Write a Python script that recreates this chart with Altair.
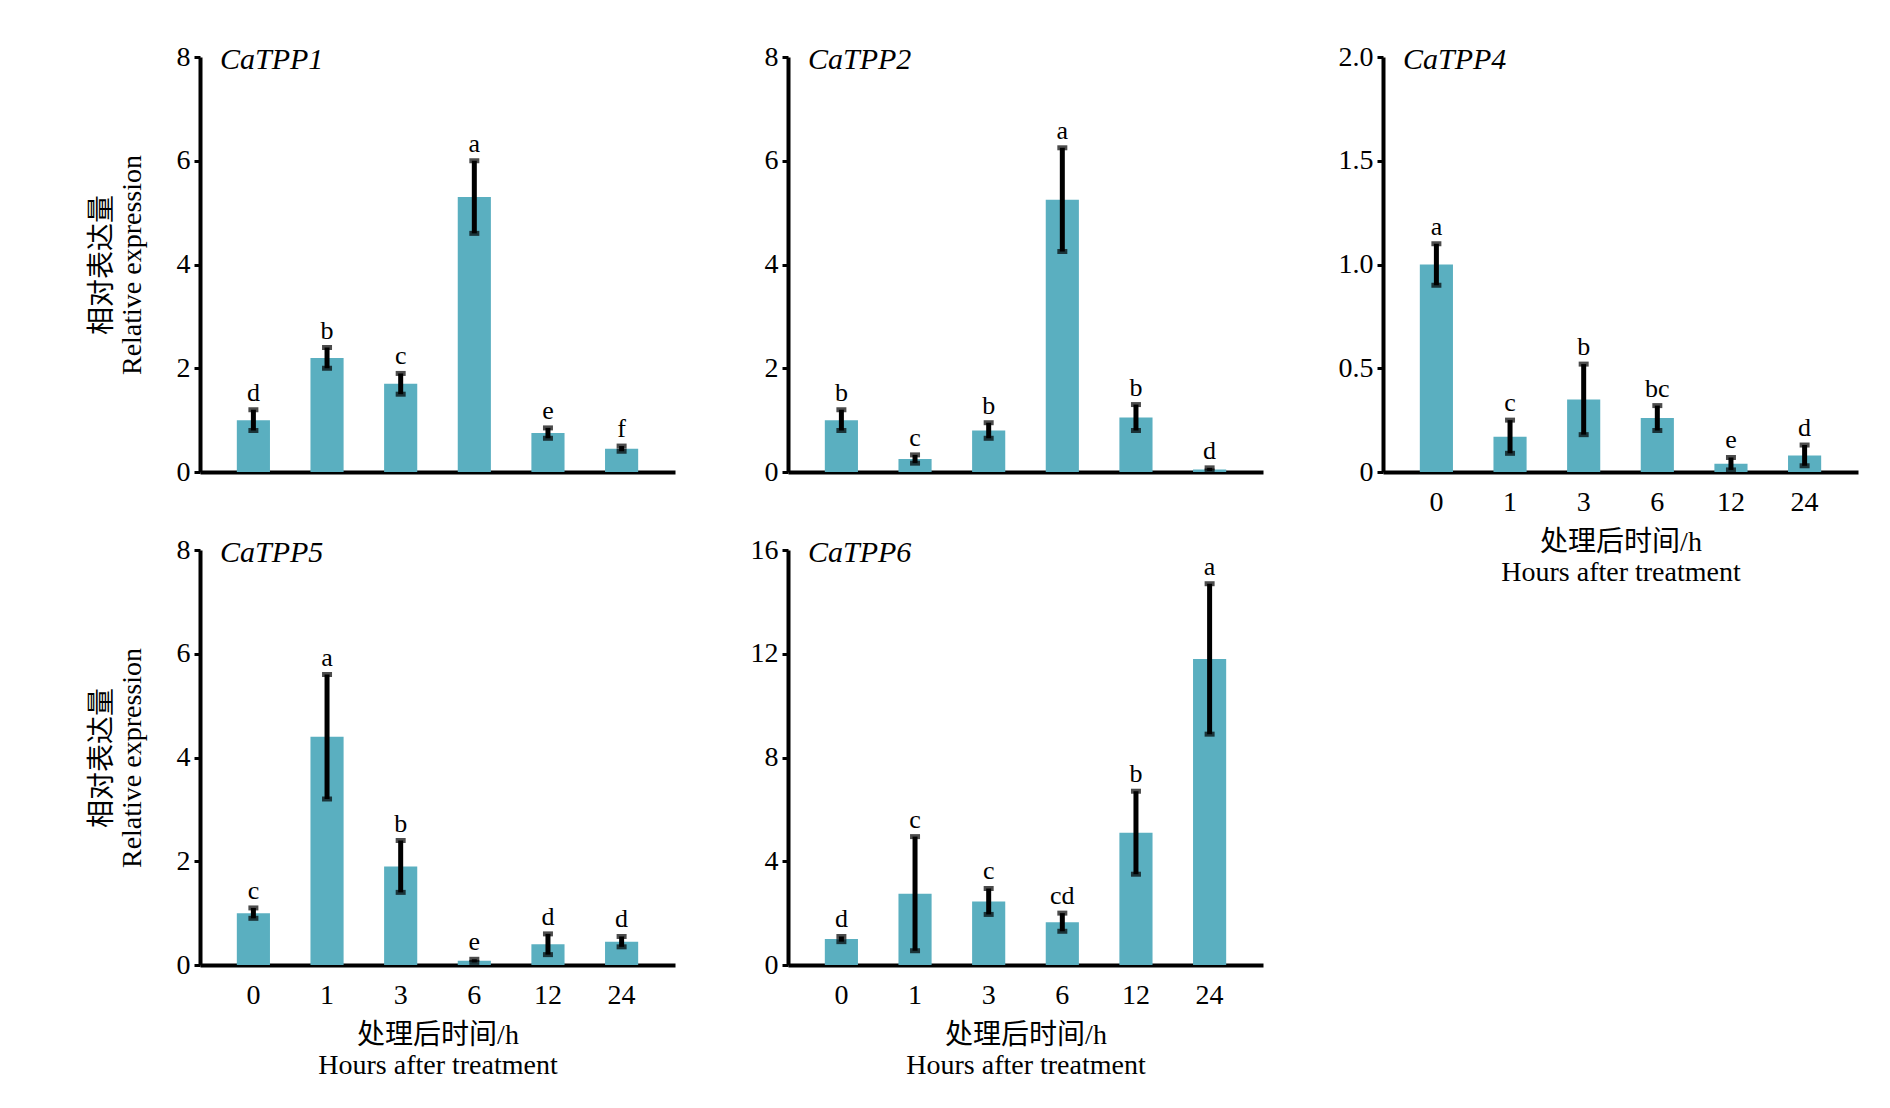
import altair as alt
import pandas as pd

hours = ["0", "1", "3", "6", "12", "24"]

tpp1_val = [1.0, 2.2, 1.7, 5.3, 0.75, 0.45]
tpp1_err = [0.2, 0.2, 0.2, 0.7, 0.1, 0.05]
tpp1_let = ["d", "b", "c", "a", "e", "f"]

tpp2_val = [1.0, 0.25, 0.8, 5.25, 1.05, 0.05]
tpp2_err = [0.2, 0.08, 0.15, 1.0, 0.25, 0.03]
tpp2_let = ["b", "c", "b", "a", "b", "d"]

tpp4_val = [1.0, 0.17, 0.35, 0.26, 0.04, 0.08]
tpp4_err = [0.1, 0.08, 0.17, 0.06, 0.03, 0.05]
tpp4_let = ["a", "c", "b", "bc", "e", "d"]

tpp5_val = [1.0, 4.4, 1.9, 0.08, 0.4, 0.45]
tpp5_err = [0.1, 1.2, 0.5, 0.03, 0.2, 0.1]
tpp5_let = ["c", "a", "b", "e", "d", "d"]

tpp6_val = [1.0, 2.75, 2.45, 1.65, 5.1, 11.8]
tpp6_err = [0.1, 2.2, 0.5, 0.35, 1.6, 2.9]
tpp6_let = ["d", "c", "c", "cd", "b", "a"]

FONT = "Liberation Serif, Noto Sans CJK SC"
BAR = "#5aafc0"
W, H = 475, 415


def panel(name, vals, errs, lets, ymax, ticks, show_x, show_y, expr=None):
    df = pd.DataFrame({"h": hours, "v": vals, "lo": [v - e for v, e in zip(vals, errs)],
                       "hi": [v + e for v, e in zip(vals, errs)], "let": lets})
    x = alt.X("h:N", sort=hours, scale=alt.Scale(paddingInner=0.55, paddingOuter=0.5),
              axis=alt.Axis(labels=show_x, ticks=False, domain=True, domainColor="black",
                            domainWidth=4, labelAngle=0, labelFontSize=28, labelFont=FONT,
                            labelPadding=16, labelColor="black",
                            title=["处理后时间/h", "Hours after  treatment"] if show_x else None,
                            titleFontSize=28, titleFont=FONT, titleFontWeight="normal",
                            titlePadding=12, titleColor="black"))
    axkw = dict(values=ticks, grid=False, domainColor="black", domainWidth=4,
                tickColor="black", tickWidth=3, tickSize=6, labelFontSize=28,
                labelFont=FONT, labelColor="black", labelPadding=4,
                title=["相对表达量", "Relative expression"] if show_y else None,
                titleFontSize=28, titleFont=FONT, titleFontWeight="normal",
                titlePadding=30, titleColor="black")
    if expr:
        axkw["labelExpr"] = expr
    y = alt.Y("v:Q", scale=alt.Scale(domain=[0, ymax], nice=False), axis=alt.Axis(**axkw))
    base = alt.Chart(df)
    xs = alt.X("h:N", sort=hours)
    bars = base.mark_bar(color=BAR).encode(x=x, y=y)
    rule = base.mark_rule(color="black", strokeWidth=5).encode(x=xs, y="lo:Q", y2="hi:Q")
    cap1 = base.mark_tick(color="black", thickness=5, size=10).encode(x=xs, y="lo:Q")
    cap2 = base.mark_tick(color="black", thickness=5, size=10).encode(x=xs, y="hi:Q")
    txt = base.mark_text(font=FONT, fontSize=26, dy=-17, color="black").encode(
        x=xs, y="hi:Q", text="let:N")
    title = alt.Chart(pd.DataFrame({"t": [name]})).mark_text(
        font=FONT, fontSize=30, fontStyle="italic", align="left", baseline="top", color="black"
    ).encode(x=alt.value(20), y=alt.value(-12), text="t:N")
    return alt.layer(bars, rule, cap1, cap2, txt, title).properties(width=W, height=H)


p1 = panel("CaTPP1", tpp1_val, tpp1_err, tpp1_let, 8, [0, 2, 4, 6, 8], False, True)
p2 = panel("CaTPP2", tpp2_val, tpp2_err, tpp2_let, 8, [0, 2, 4, 6, 8], False, False)
p4 = panel("CaTPP4", tpp4_val, tpp4_err, tpp4_let, 2.0, [0, 0.5, 1.0, 1.5, 2.0], True, False,
           expr="datum.value == 0 ? '0' : format(datum.value, '.1f')")
p5 = panel("CaTPP5", tpp5_val, tpp5_err, tpp5_let, 8, [0, 2, 4, 6, 8], True, True)
p6 = panel("CaTPP6", tpp6_val, tpp6_err, tpp6_let, 16, [0, 4, 8, 12, 16], True, False)

col1 = alt.vconcat(p1, p5, spacing=50)
col2 = alt.vconcat(p2, p6, spacing=50)
chart = alt.hconcat(col1, col2, p4, spacing=75).configure(
    background="white", padding={"left": 80, "top": 35, "right": 10, "bottom": 10},
    view=alt.ViewConfig(stroke=None))

chart.save("out.html", embed_options={"renderer": "svg", "actions": False})
